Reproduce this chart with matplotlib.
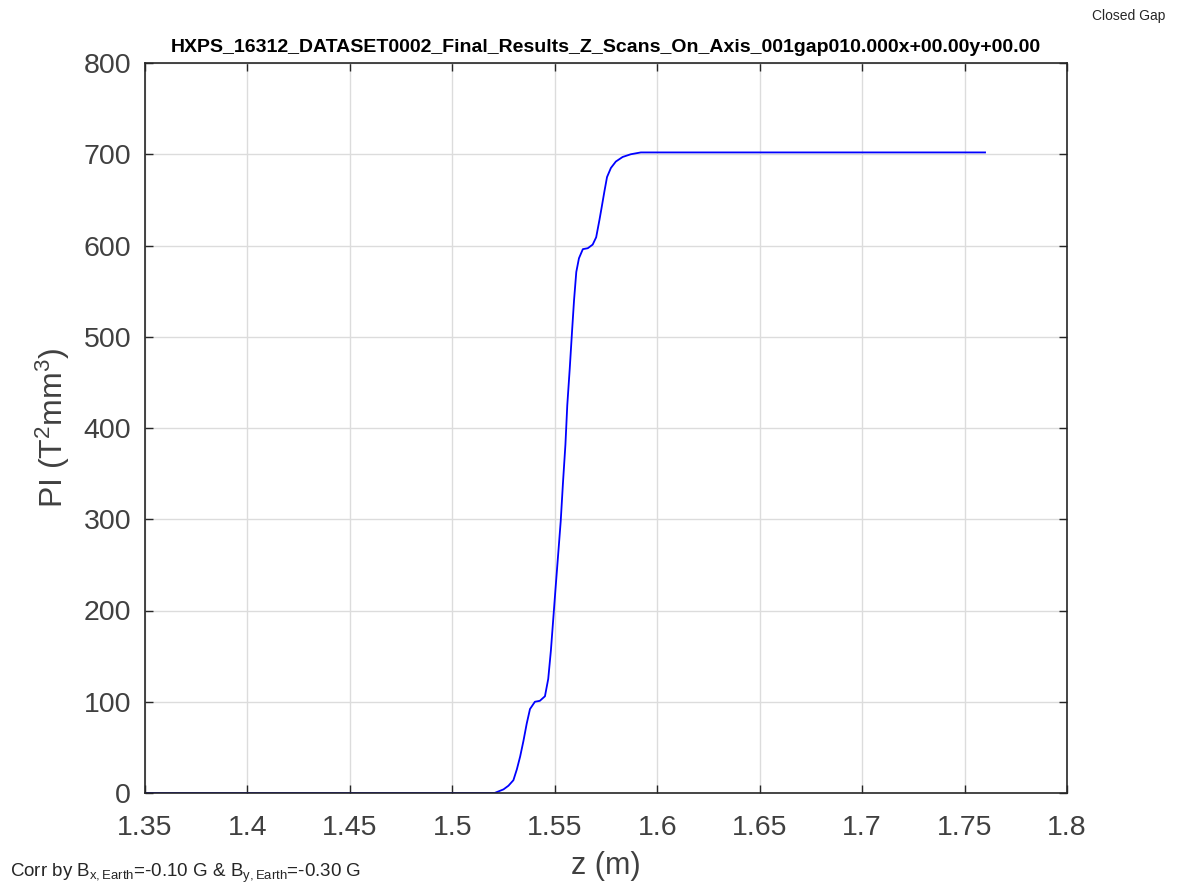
import matplotlib
matplotlib.use("Agg")
import matplotlib.pyplot as plt

# values
z_m = [1.35, 1.40, 1.45, 1.50, 1.5206, 1.525, 1.5274, 1.5298, 1.5315, 1.5331,
       1.5347, 1.5363, 1.5379, 1.5403, 1.5427, 1.5452, 1.5468, 1.5481, 1.5492,
       1.5503, 1.5516, 1.5529, 1.554, 1.5552, 1.5561, 1.5573, 1.5584, 1.5594,
       1.5605, 1.5618, 1.5637, 1.5661, 1.5685, 1.5702, 1.5718, 1.5729, 1.5742,
       1.5755, 1.5774, 1.5798, 1.5831, 1.5871, 1.592, 1.62, 1.70, 1.76]
pi_t2mm3 = [0, 0, 0, 0, 0, 4, 8, 14, 26, 40,
            57, 76, 92, 100, 101, 106, 125, 156, 189,
            222, 260, 298, 340, 382, 425, 465, 505, 540,
            571, 586, 596, 597, 601, 609, 628, 642, 659,
            675, 685, 692, 697, 700, 702, 702, 702, 702]

xticks = [1.35, 1.4, 1.45, 1.5, 1.55, 1.6, 1.65, 1.7, 1.75, 1.8]
xticklabels = ["1.35", "1.4", "1.45", "1.5", "1.55", "1.6", "1.65", "1.7", "1.75", "1.8"]
yticks = [0, 100, 200, 300, 400, 500, 600, 700, 800]

plt.rcParams["font.family"] = ["Liberation Sans", "DejaVu Sans"]
plt.rcParams["mathtext.fontset"] = "custom"
plt.rcParams["mathtext.rm"] = "Liberation Sans"
plt.rcParams["mathtext.it"] = "Liberation Sans"

edge = "#262626"
txt = "#404040"
fig = plt.figure(figsize=(11.78, 8.93), dpi=100)
ax = fig.add_axes([145 / 1178, 1 - 793 / 893, (1067 - 145) / 1178, (793 - 63) / 893])

ax.plot(z_m, pi_t2mm3, color="#0000ff", lw=1.3)

ax.set_xlim(1.35, 1.8)
ax.set_ylim(0, 800)
ax.set_xticks(xticks)
ax.set_xticklabels(xticklabels)
ax.set_yticks(yticks)
ax.grid(True, color="#dcdcdc", lw=1.0)
ax.set_axisbelow(True)
ax.tick_params(direction="in", length=6, width=1.0, color=edge, labelcolor=txt,
               labelsize=20.5, top=True, right=True)
ax.tick_params(axis="x", pad=16)
ax.tick_params(axis="y", pad=10)
for s in ax.spines.values():
    s.set_color(edge)
    s.set_linewidth(1.2)

ax.set_xlabel("z (m)", fontsize=22, color=txt, labelpad=7)
ax.set_ylabel(r"PI (T$^{2}$mm$^{3}$)", fontsize=23, color=txt, labelpad=8)
ax.set_title("HXPS_16312_DATASET0002_Final_Results_Z_Scans_On_Axis_001gap010.000x+00.00y+00.00",
             fontsize=14, fontweight="bold", color="black", pad=8)

fig.text(1165 / 1178, 1 - 16 / 893, "Closed Gap", ha="right", va="center",
         fontsize=10, color=edge)
fig.text(10 / 1178, 1 - 873 / 893,
         r"Corr by B$_{x,Earth}$=-0.10 G & B$_{y,Earth}$=-0.30 G",
         ha="left", va="center", fontsize=13.5, color=edge)

fig.savefig("out.png", dpi=100)
